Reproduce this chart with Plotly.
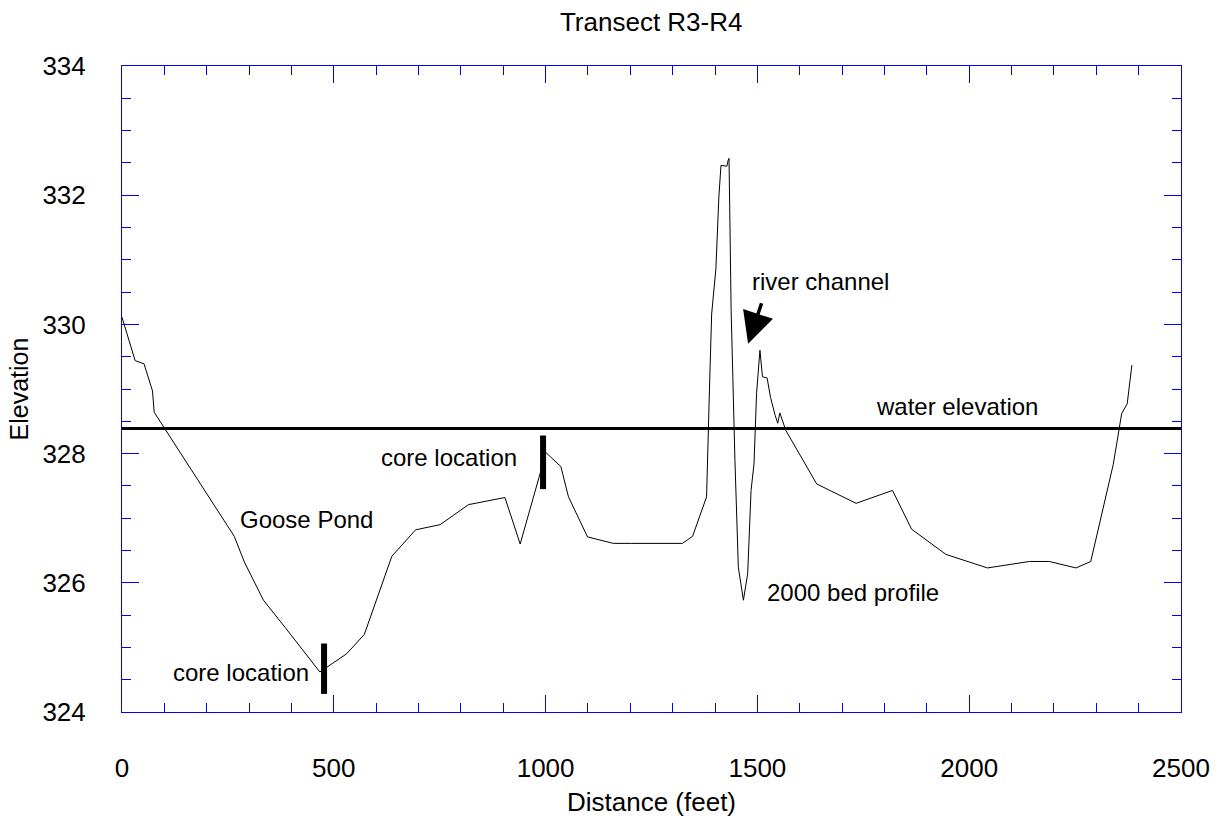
import plotly.graph_objects as go

# Bed profile (2000) along Transect R3-R4
distance_ft = [0, 31, 52, 72, 76, 265, 289, 334, 385, 467, 530, 572, 637, 693, 751, 818, 904,
               940, 987, 1000, 1036, 1054, 1099, 1160, 1202, 1262, 1323, 1347, 1378, 1380, 1387,
               1392, 1402, 1409, 1414, 1428, 1431, 1433, 1438, 1441, 1447, 1455, 1467, 1477,
               1485, 1492, 1498, 1506, 1512, 1523, 1531, 1542, 1548, 1553, 1567, 1640, 1733,
               1819, 1864, 1945, 2043, 2142, 2189, 2252, 2287, 2340, 2360, 2373, 2384]
elevation = [330.11, 329.44, 329.39, 328.97, 328.64, 326.72, 326.32, 325.73, 325.31, 324.62,
             324.90, 325.20, 326.41, 326.82, 326.90, 327.21, 327.32, 326.60, 327.69, 328.02,
             327.80, 327.33, 326.71, 326.61, 326.61, 326.61, 326.61, 326.72, 327.32, 327.33,
             329.03, 330.16, 330.86, 331.97, 332.46, 332.45, 332.54, 332.57, 330.22, 329.29,
             327.89, 326.24, 325.73, 326.14, 327.43, 327.84, 328.93, 329.60, 329.19, 329.17,
             328.87, 328.59, 328.47, 328.63, 328.36, 327.53, 327.23, 327.43, 326.83, 326.44,
             326.23, 326.33, 326.33, 326.23, 326.33, 327.83, 328.62, 328.77, 329.37]

water_elevation = 328.39
water_extent_ft = [0, 2500]

core_x = [477, 994]
core_bottom = [324.28, 327.45]
core_top = [325.06, 328.28]

x_range = [0, 2500]
y_range = [324, 334]
x_ticks = [0, 500, 1000, 1500, 2000, 2500]
y_ticks = [324, 326, 328, 330, 332, 334]

FONT = "Liberation Sans, Arial, sans-serif"
AXIS_BLUE = "#0000ff"

fig = go.Figure()

fig.add_trace(go.Scatter(
    x=water_extent_ft, y=[water_elevation, water_elevation], mode="lines",
    line=dict(color="black", width=3), showlegend=False, hoverinfo="skip"))

fig.add_trace(go.Scatter(
    x=distance_ft, y=elevation, mode="lines",
    line=dict(color="black", width=1), showlegend=False))

for cx, cb, ct in zip(core_x, core_bottom, core_top):
    fig.add_trace(go.Scatter(
        x=[cx, cx], y=[cb, ct], mode="lines",
        line=dict(color="black", width=6), showlegend=False, hoverinfo="skip"))

labels = [
    ("core location", 281, 324.61),
    ("core location", 772, 327.94),
    ("Goose Pond", 436, 326.98),
    ("2000 bed profile", 1726, 325.85),
    ("water elevation", 1972, 328.73),
    ("river channel", 1649, 330.67),
]
for txt, lx, ly in labels:
    fig.add_annotation(x=lx, y=ly, text=txt, showarrow=False,
                       font=dict(family=FONT, size=24, color="black"),
                       xanchor="center", yanchor="middle")

# arrow pointing at the river channel
fig.add_annotation(x=1478, y=329.70, ax=14, ay=-42, text="", showarrow=True,
                   arrowhead=2, arrowsize=1.8, arrowwidth=3.5, arrowcolor="black",
                   axref="pixel", ayref="pixel")

axis_common = dict(
    showgrid=False, zeroline=False, showline=True, linecolor=AXIS_BLUE, linewidth=1,
    mirror="ticks", ticks="inside", tickcolor=AXIS_BLUE, ticklen=17, tickwidth=1,
    tickfont=dict(family=FONT, size=26, color="black"),
)

fig.update_xaxes(range=x_range, tickvals=x_ticks, ticklabelstandoff=33,
                 minor=dict(ticks="inside", ticklen=9, dtick=100, tickcolor=AXIS_BLUE, showgrid=False),
                 title=dict(text="Distance (feet)", font=dict(family=FONT, size=26, color="black"), standoff=10),
                 **axis_common)
fig.update_yaxes(range=y_range, tickvals=y_ticks, ticklabelstandoff=30,
                 minor=dict(ticks="inside", ticklen=9, dtick=0.5, tickcolor=AXIS_BLUE, showgrid=False),
                 title=dict(text="Elevation", font=dict(family=FONT, size=25, color="black"), standoff=6),
                 **axis_common)

fig.update_layout(
    width=1225, height=829,
    margin=dict(l=122, r=44, t=66, b=117),
    paper_bgcolor="white", plot_bgcolor="white",
    title=dict(text="Transect R3-R4", x=0.5316, xanchor="center", y=0.973, yanchor="middle",
               font=dict(family=FONT, size=26, color="black")),
    showlegend=False,
)

fig.write_html("out.html")
